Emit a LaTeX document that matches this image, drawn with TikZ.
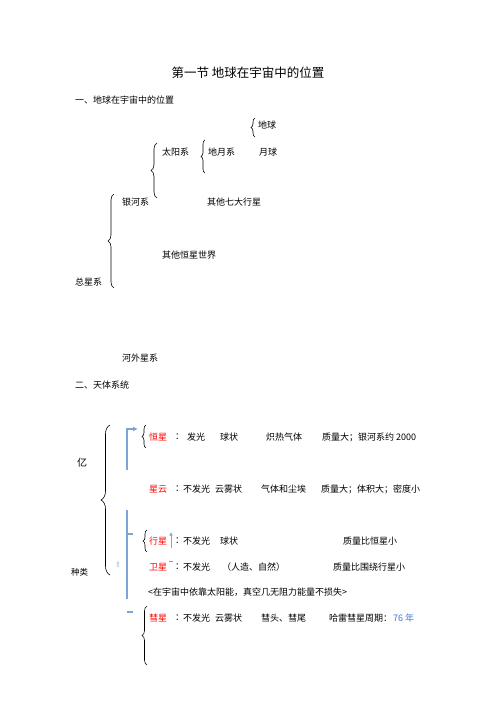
\documentclass[tikz,border=0pt]{standalone}
\usepackage{fontspec}
\setmainfont{Noto Sans CJK SC}
\usepackage{xcolor}
\usetikzlibrary{arrows.meta,positioning,decorations.pathreplacing}
\definecolor{markred}{HTML}{FF0000}
\definecolor{noteblue}{HTML}{3C78D8}
\definecolor{lineblue}{HTML}{7DA4D4}

\begin{document}
\begin{tikzpicture}[x=1pt,y=-1pt]
                \tikzset{Txt/.style={anchor=west, inner sep=0pt, font=\fontsize{9}{10}\selectfont}}
                \tikzset{RedTxt/.style={Txt, text=markred}}
                \tikzset{Brace/.style={decorate, decoration={brace, amplitude=#1}, line width=0.6pt}, Brace/.default=4}
                \tikzset{BlueLine/.style={draw=lineblue, line width=1.1pt}}

                \useasboundingbox (0,0) rectangle (496,702);

                % headings
                \node[inner sep=0pt, font=\fontsize{12.5}{14}\selectfont](Title) at (248,73) {第一节 地球在宇宙中的位置};
                \node[Txt](SecA) at (75,100) {一、地球在宇宙中的位置};
                \node[Txt](SecB) at (75,385) {二、天体系统};

                % part one
                \node[Txt](Diqiu) at (258,125) {地球};
                \node[Txt](Taiyang) at (162,152) {太阳系};
                \node[Txt](Diyue) at (208,152) {地月系};
                \node[Txt](Yueqiu) at (259,152) {月球};
                \node[Txt](Yinhe) at (122,202) {银河系};
                \node[Txt](QitaXing) at (207,202) {其他七大行星};
                \node[Txt](QitaHeng) at (162,255) {其他恒星世界};
                \node[Txt](Zong) at (75,282) {总星系};
                \node[Txt](Hewai) at (122,358) {河外星系};

                \coordinate (BDqT) at (255,118); \coordinate (BDqB) at (255,137);
                \coordinate (BTyT) at (157,143); \coordinate (BTyB) at (157,198);
                \coordinate (BDyT) at (205,140); \coordinate (BDyB) at (205,173);
                \coordinate (BYhT) at (114,194); \coordinate (BYhB) at (114,288);

                \draw[Brace=4] (BDqB) -- (BDqT);
                \draw[Brace=6] (BTyB) -- (BTyT);
                \draw[Brace=4] (BDyB) -- (BDyT);
                \draw[Brace=6] (BYhB) -- (BYhT);

                % part two
                \node[Txt, font=\fontsize{10}{11}\selectfont](Yi) at (77,463) {亿};
                \node[Txt, font=\fontsize{8.5}{10}\selectfont](Zhonglei) at (71,572) {种类};
                \node[anchor=center, inner sep=0pt, text=lineblue, align=center, font=\fontsize{3}{3.6}\selectfont](Tiny) at (118,565) {星\\系};

                \node[RedTxt](Hengxing) at (149,437) {恒星};
                \node[Txt](HxC) at (175,437) {：};
                \node[Txt](HxA) at (187,437) {发光};
                \node[Txt](HxB) at (220,437) {球状};
                \node[Txt](HxD) at (266,437) {炽热气体};
                \node[Txt](HxE) at (322,437) {质量大；银河系约 2000};

                \node[RedTxt](Xingyun) at (149,489) {星云};
                \node[Txt](XyC) at (175,489) {：};
                \node[Txt](XyA) at (183,489) {不发光};
                \node[Txt](XyB) at (215,489) {云雾状};
                \node[Txt](XyD) at (261,489) {气体和尘埃};
                \node[Txt](XyE) at (321,489) {质量大；体积大；密度小};

                \node[RedTxt](Xingxing) at (149,541) {行星};
                \node[Txt](XxC) at (175,541) {：};
                \node[Txt](XxA) at (183,541) {不发光};
                \node[Txt](XxB) at (220,541) {球状};
                \node[Txt](XxE) at (343,541) {质量比恒星小};

                \node[RedTxt](Weixing) at (149,567) {卫星};
                \node[Txt](WxC) at (175,567) {：};
                \node[Txt](WxA) at (183,567) {不发光};
                \node[Txt](WxB) at (222,567) {（人造、自然）};
                \node[Txt](WxE) at (333,567) {质量比围绕行星小};

                \node[Txt](Note) at (148,592) {<在宇宙中依靠太阳能，真空几无阻力能量不损失>};

                \node[RedTxt](Huixing) at (149,618) {彗星};
                \node[Txt](HuC) at (175,618) {：};
                \node[Txt](HuA) at (183,618) {不发光};
                \node[Txt](HuB) at (215,618) {云雾状};
                \node[Txt](HuD) at (261,618) {彗头、彗尾};
                \node[Txt](HuE) at (329,618) {哈雷彗星周期：};
                \node[Txt, text=noteblue](HuF) at (393,618) {76 年};

                \coordinate (BAllT) at (110,425); \coordinate (BAllB) at (110,575);
                \coordinate (BHxT) at (146,425); \coordinate (BHxB) at (146,448);
                \coordinate (BXxT) at (147,530); \coordinate (BXxB) at (147,552);
                \coordinate (BHuT) at (147,606); \coordinate (BHuB) at (147,665);

                \draw[Brace=9] (BAllB) -- (BAllT);
                \draw[Brace=4] (BHxB) -- (BHxT);
                \draw[Brace=4] (BXxB) -- (BXxT);
                \draw[Brace=5] (BHuB) -- (BHuT);

                % blue marks
                \coordinate (ArS) at (127,470); \coordinate (ArE) at (138,429);
                \coordinate (LnT) at (127,510); \coordinate (LnB) at (127,599);
                \coordinate (TkA) at (133,534); \coordinate (TkB) at (127,612); \coordinate (TkC) at (133,612);
                \coordinate (SmS) at (171,548); \coordinate (SmE) at (171,532);
                \coordinate (DsA) at (169,561); \coordinate (DsB) at (173,561);

                \draw[BlueLine, -{Latex[length=5pt,width=5pt]}] (ArS) |- (ArE);
                \draw[BlueLine] (LnT) -- (LnB)
                    (LnB |- TkA) -- (TkA)
                    (TkB) -- (TkC);
                \draw[BlueLine, line width=0.8pt, -{Latex[length=3.5pt,width=3.5pt]}] (SmS) -- (SmE);
                \draw[BlueLine, line width=0.8pt] (DsA) -- (DsB);
            \end{tikzpicture}
\end{document}
